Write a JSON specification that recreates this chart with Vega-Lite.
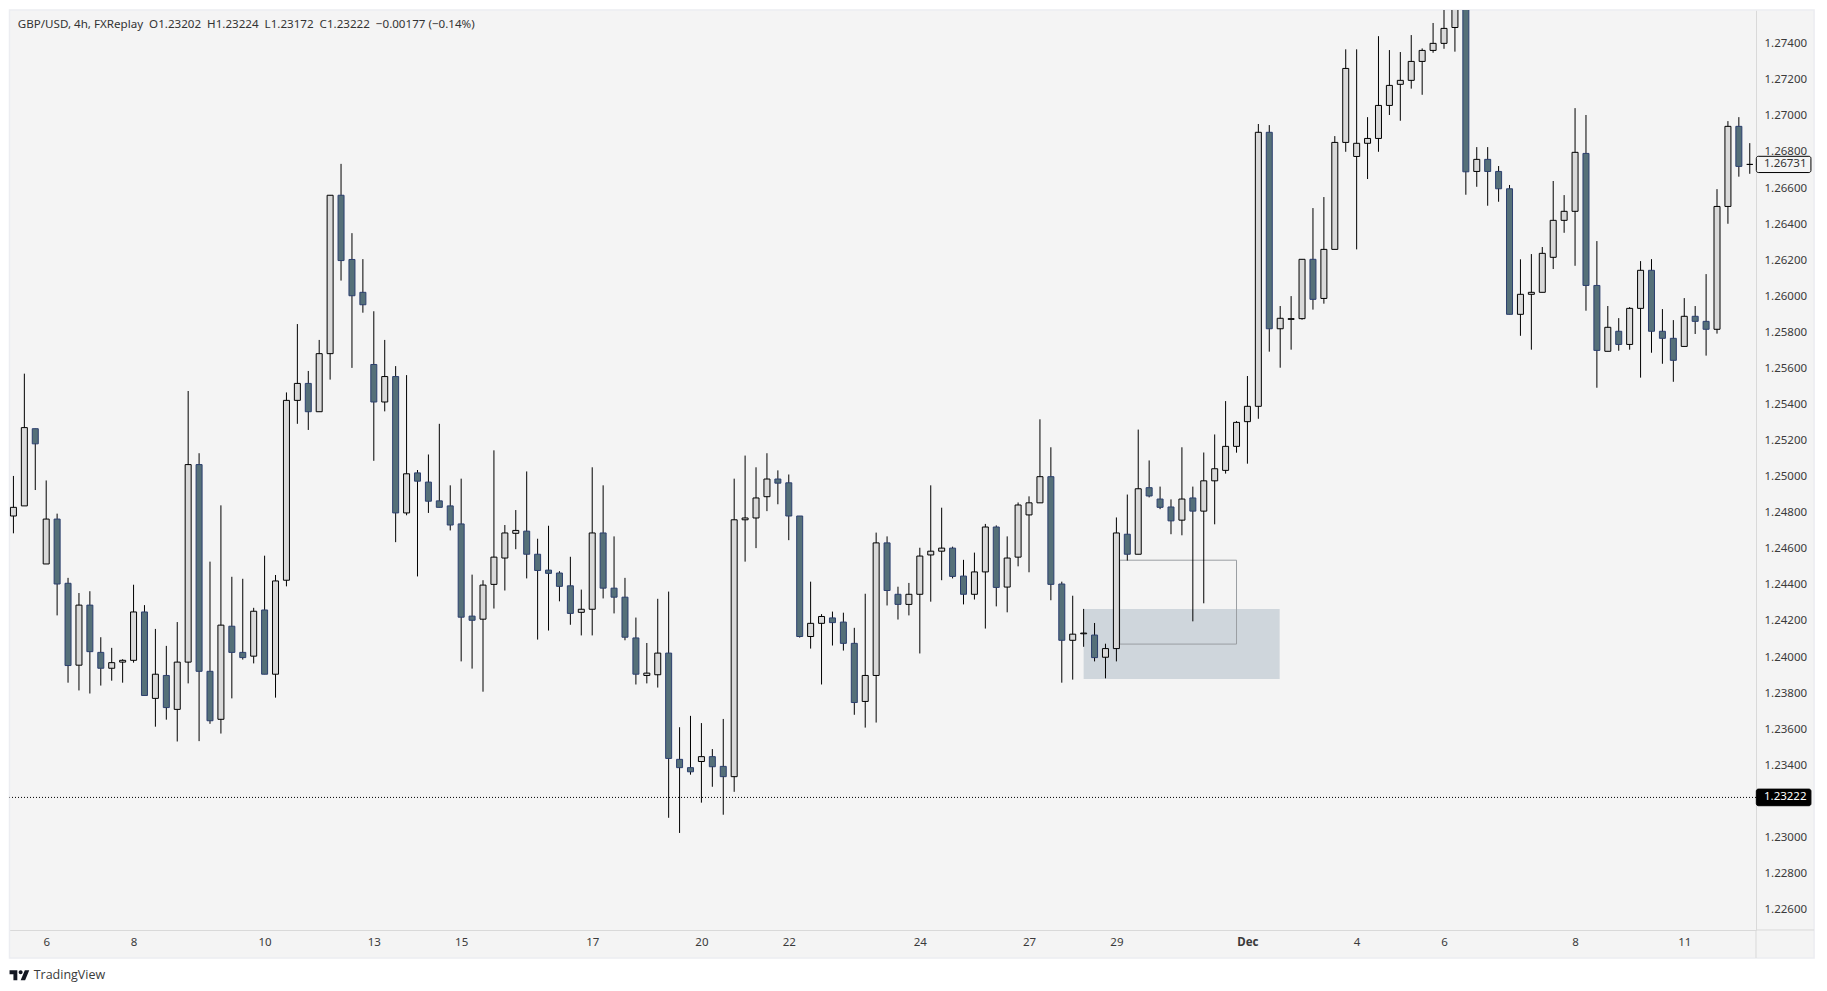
{
"$schema":"https://vega.github.io/schema/vega-lite/v6.json",
"width":1746.5,"height":920,
"autosize":{"type":"none"},
"padding":{"left":9.5,"top":10,"right":71,"bottom":61},
"background":"#f4f4f4",
"datasets":{
"margins":[
{"from":-10,"to":-0.36,"low":1.2,"high":1.3},
{"from":164.89,"to":175,"low":1.2,"high":1.3},
{"from":-10,"to":175,"low":1.27587,"high":1.3},
{"from":-10,"to":175,"low":1.2,"high":1.22332}
],
"candles":[
{"t":0,"o":1.24782,"h":1.25004,"l":1.24686,"c":1.2483},
{"t":1,"o":1.24838,"h":1.25571,"l":1.24838,"c":1.25272},
{"t":2,"o":1.25266,"h":1.25266,"l":1.24926,"c":1.25182},
{"t":3,"o":1.24516,"h":1.24979,"l":1.24516,"c":1.24765},
{"t":4,"o":1.24765,"h":1.24795,"l":1.24231,"c":1.24405},
{"t":5,"o":1.24409,"h":1.24439,"l":1.23858,"c":1.23953},
{"t":6,"o":1.23955,"h":1.24355,"l":1.23815,"c":1.24288},
{"t":7,"o":1.24288,"h":1.24365,"l":1.23798,"c":1.2403},
{"t":8,"o":1.24026,"h":1.2411,"l":1.23842,"c":1.23938},
{"t":9,"o":1.23938,"h":1.24051,"l":1.23869,"c":1.23969},
{"t":10,"o":1.23972,"h":1.23988,"l":1.23858,"c":1.23982},
{"t":11,"o":1.23982,"h":1.24401,"l":1.23969,"c":1.2425},
{"t":12,"o":1.2425,"h":1.24288,"l":1.23787,"c":1.23787},
{"t":13,"o":1.23771,"h":1.24156,"l":1.23614,"c":1.23905},
{"t":14,"o":1.23898,"h":1.24062,"l":1.23653,"c":1.2372},
{"t":15,"o":1.2371,"h":1.24194,"l":1.23532,"c":1.23972},
{"t":16,"o":1.23972,"h":1.25475,"l":1.23854,"c":1.25067},
{"t":17,"o":1.25067,"h":1.2513,"l":1.23534,"c":1.23921},
{"t":18,"o":1.23921,"h":1.24529,"l":1.2363,"c":1.23647},
{"t":19,"o":1.23655,"h":1.24841,"l":1.23576,"c":1.24177},
{"t":20,"o":1.24171,"h":1.24445,"l":1.23771,"c":1.24026},
{"t":21,"o":1.24026,"h":1.24434,"l":1.23986,"c":1.23997},
{"t":22,"o":1.24005,"h":1.24273,"l":1.23965,"c":1.24254},
{"t":23,"o":1.24261,"h":1.24562,"l":1.23905,"c":1.23905},
{"t":24,"o":1.23905,"h":1.24455,"l":1.23775,"c":1.24422},
{"t":25,"o":1.24426,"h":1.25467,"l":1.24392,"c":1.25423},
{"t":26,"o":1.25423,"h":1.25846,"l":1.25293,"c":1.25517},
{"t":27,"o":1.25517,"h":1.25586,"l":1.25259,"c":1.2536},
{"t":28,"o":1.2536,"h":1.25758,"l":1.2536,"c":1.25682},
{"t":29,"o":1.25682,"h":1.2656,"l":1.25538,"c":1.2656},
{"t":30,"o":1.2656,"h":1.26734,"l":1.26087,"c":1.26198},
{"t":31,"o":1.26204,"h":1.2635,"l":1.25603,"c":1.26003},
{"t":32,"o":1.26022,"h":1.26206,"l":1.25909,"c":1.25953},
{"t":33,"o":1.25622,"h":1.25917,"l":1.25088,"c":1.25414},
{"t":34,"o":1.25414,"h":1.25758,"l":1.25362,"c":1.25555},
{"t":35,"o":1.25555,"h":1.25613,"l":1.24637,"c":1.24799},
{"t":36,"o":1.24799,"h":1.25563,"l":1.24786,"c":1.25016},
{"t":37,"o":1.25021,"h":1.25037,"l":1.24447,"c":1.24975},
{"t":38,"o":1.2497,"h":1.25123,"l":1.24799,"c":1.24864},
{"t":39,"o":1.24866,"h":1.25293,"l":1.2483,"c":1.2483},
{"t":40,"o":1.24838,"h":1.24952,"l":1.24702,"c":1.24732},
{"t":41,"o":1.24738,"h":1.24989,"l":1.23976,"c":1.24221},
{"t":42,"o":1.24227,"h":1.24457,"l":1.23936,"c":1.24204},
{"t":43,"o":1.2421,"h":1.24426,"l":1.23808,"c":1.24399},
{"t":44,"o":1.24403,"h":1.25146,"l":1.24269,"c":1.24554},
{"t":45,"o":1.24549,"h":1.24732,"l":1.24369,"c":1.24688},
{"t":46,"o":1.24686,"h":1.24815,"l":1.24598,"c":1.24702},
{"t":47,"o":1.24698,"h":1.25029,"l":1.24436,"c":1.2457},
{"t":48,"o":1.2457,"h":1.24656,"l":1.24097,"c":1.2448},
{"t":49,"o":1.24482,"h":1.24728,"l":1.24147,"c":1.24464},
{"t":50,"o":1.24466,"h":1.24476,"l":1.24309,"c":1.24392},
{"t":51,"o":1.24395,"h":1.24556,"l":1.24179,"c":1.24242},
{"t":52,"o":1.24248,"h":1.24374,"l":1.2412,"c":1.24265},
{"t":53,"o":1.24265,"h":1.25052,"l":1.2412,"c":1.24688},
{"t":54,"o":1.24688,"h":1.24952,"l":1.24325,"c":1.24382},
{"t":55,"o":1.24382,"h":1.24669,"l":1.24242,"c":1.24332},
{"t":56,"o":1.24332,"h":1.24439,"l":1.24093,"c":1.2411},
{"t":57,"o":1.24106,"h":1.24219,"l":1.23848,"c":1.23905},
{"t":58,"o":1.23898,"h":1.24078,"l":1.23854,"c":1.23911},
{"t":59,"o":1.23902,"h":1.24323,"l":1.23831,"c":1.24022},
{"t":60,"o":1.24022,"h":1.24363,"l":1.23109,"c":1.23438},
{"t":61,"o":1.23433,"h":1.23611,"l":1.23025,"c":1.23387},
{"t":62,"o":1.23387,"h":1.23674,"l":1.23348,"c":1.23364},
{"t":63,"o":1.23421,"h":1.23634,"l":1.23193,"c":1.23448},
{"t":64,"o":1.23448,"h":1.2349,"l":1.23281,"c":1.23392},
{"t":65,"o":1.23394,"h":1.23657,"l":1.23126,"c":1.23337},
{"t":66,"o":1.23337,"h":1.24989,"l":1.23253,"c":1.24761},
{"t":67,"o":1.24761,"h":1.25117,"l":1.24529,"c":1.24771},
{"t":68,"o":1.24771,"h":1.25052,"l":1.24604,"c":1.24882},
{"t":69,"o":1.24889,"h":1.2513,"l":1.24809,"c":1.24987},
{"t":70,"o":1.24987,"h":1.25035,"l":1.24847,"c":1.24964},
{"t":71,"o":1.24966,"h":1.25012,"l":1.24648,"c":1.24782},
{"t":72,"o":1.24782,"h":1.24782,"l":1.24108,"c":1.24114},
{"t":73,"o":1.24114,"h":1.24418,"l":1.24047,"c":1.24187},
{"t":74,"o":1.24187,"h":1.24238,"l":1.23848,"c":1.24225},
{"t":75,"o":1.24217,"h":1.24252,"l":1.24064,"c":1.24191},
{"t":76,"o":1.24194,"h":1.24246,"l":1.24036,"c":1.24076},
{"t":77,"o":1.24076,"h":1.24162,"l":1.2368,"c":1.23748},
{"t":78,"o":1.23754,"h":1.24351,"l":1.23609,"c":1.23898},
{"t":79,"o":1.23898,"h":1.2469,"l":1.23637,"c":1.24633},
{"t":80,"o":1.24633,"h":1.24669,"l":1.24286,"c":1.24369},
{"t":81,"o":1.24348,"h":1.2439,"l":1.24208,"c":1.24292},
{"t":82,"o":1.24292,"h":1.24411,"l":1.24231,"c":1.24348},
{"t":83,"o":1.24348,"h":1.24606,"l":1.2402,"c":1.2456},
{"t":84,"o":1.24566,"h":1.24952,"l":1.24307,"c":1.24587},
{"t":85,"o":1.24587,"h":1.24828,"l":1.24426,"c":1.24604},
{"t":86,"o":1.24604,"h":1.24612,"l":1.24436,"c":1.24447},
{"t":87,"o":1.24449,"h":1.24539,"l":1.24292,"c":1.24348},
{"t":88,"o":1.24348,"h":1.24579,"l":1.24319,"c":1.24472},
{"t":89,"o":1.24472,"h":1.24738,"l":1.24158,"c":1.24721},
{"t":90,"o":1.24721,"h":1.2473,"l":1.24281,"c":1.24386},
{"t":91,"o":1.24388,"h":1.24669,"l":1.24248,"c":1.24549},
{"t":92,"o":1.24554,"h":1.24857,"l":1.24503,"c":1.24843},
{"t":93,"o":1.24788,"h":1.24891,"l":1.2447,"c":1.24855},
{"t":94,"o":1.24855,"h":1.25318,"l":1.24855,"c":1.25},
{"t":95,"o":1.25,"h":1.25163,"l":1.24315,"c":1.24403},
{"t":96,"o":1.24405,"h":1.24418,"l":1.23858,"c":1.24093},
{"t":97,"o":1.24093,"h":1.2434,"l":1.23875,"c":1.24127},
{"t":98,"o":1.24129,"h":1.24267,"l":1.24057,"c":1.24133},
{"t":99,"o":1.24122,"h":1.24189,"l":1.23976,"c":1.23997},
{"t":100,"o":1.23999,"h":1.24074,"l":1.23882,"c":1.24047},
{"t":101,"o":1.24047,"h":1.24774,"l":1.23976,"c":1.24688},
{"t":102,"o":1.24681,"h":1.24901,"l":1.24535,"c":1.2457},
{"t":103,"o":1.2457,"h":1.25261,"l":1.2457,"c":1.24933},
{"t":104,"o":1.24939,"h":1.2509,"l":1.24885,"c":1.24893},
{"t":105,"o":1.24876,"h":1.24945,"l":1.2482,"c":1.2483},
{"t":106,"o":1.24832,"h":1.24874,"l":1.24681,"c":1.24755},
{"t":107,"o":1.24759,"h":1.25163,"l":1.24675,"c":1.24876},
{"t":108,"o":1.24882,"h":1.24945,"l":1.24198,"c":1.24809},
{"t":109,"o":1.24809,"h":1.25134,"l":1.24298,"c":1.24977},
{"t":110,"o":1.24977,"h":1.25234,"l":1.24736,"c":1.25044},
{"t":111,"o":1.25035,"h":1.25419,"l":1.25017,"c":1.25168},
{"t":112,"o":1.25168,"h":1.25308,"l":1.25133,"c":1.25301},
{"t":113,"o":1.25305,"h":1.25558,"l":1.25072,"c":1.2539},
{"t":114,"o":1.2539,"h":1.26955,"l":1.25321,"c":1.26909},
{"t":115,"o":1.26909,"h":1.26949,"l":1.25693,"c":1.2582},
{"t":116,"o":1.2582,"h":1.25946,"l":1.25604,"c":1.25878},
{"t":117,"o":1.25872,"h":1.26001,"l":1.25704,"c":1.25876},
{"t":118,"o":1.25876,"h":1.26205,"l":1.2587,"c":1.26205},
{"t":119,"o":1.26205,"h":1.26489,"l":1.25926,"c":1.25983},
{"t":120,"o":1.25988,"h":1.2655,"l":1.25959,"c":1.2626},
{"t":121,"o":1.2626,"h":1.26888,"l":1.2626,"c":1.26853},
{"t":122,"o":1.26853,"h":1.27369,"l":1.26801,"c":1.27263},
{"t":123,"o":1.26775,"h":1.27369,"l":1.2626,"c":1.26848},
{"t":124,"o":1.26848,"h":1.26993,"l":1.2665,"c":1.26875},
{"t":125,"o":1.26875,"h":1.27442,"l":1.26801,"c":1.27058},
{"t":126,"o":1.27058,"h":1.27365,"l":1.27005,"c":1.27169},
{"t":127,"o":1.27175,"h":1.27354,"l":1.26973,"c":1.27197},
{"t":128,"o":1.27197,"h":1.27448,"l":1.27151,"c":1.27302},
{"t":129,"o":1.27302,"h":1.27374,"l":1.27117,"c":1.27363},
{"t":130,"o":1.27363,"h":1.27515,"l":1.2735,"c":1.27402},
{"t":131,"o":1.27402,"h":1.276,"l":1.27372,"c":1.27485},
{"t":132,"o":1.2749,"h":1.276,"l":1.27356,"c":1.276},
{"t":133,"o":1.276,"h":1.276,"l":1.26563,"c":1.2669},
{"t":134,"o":1.26692,"h":1.26827,"l":1.26607,"c":1.26759},
{"t":135,"o":1.26759,"h":1.26827,"l":1.26502,"c":1.26692},
{"t":136,"o":1.26692,"h":1.26722,"l":1.26524,"c":1.26596},
{"t":137,"o":1.26596,"h":1.26617,"l":1.259,"c":1.259},
{"t":138,"o":1.259,"h":1.26205,"l":1.25781,"c":1.26011},
{"t":139,"o":1.26011,"h":1.26234,"l":1.25704,"c":1.26022},
{"t":140,"o":1.26022,"h":1.26273,"l":1.26022,"c":1.26238},
{"t":141,"o":1.26216,"h":1.26639,"l":1.26151,"c":1.26421},
{"t":142,"o":1.26421,"h":1.26561,"l":1.26352,"c":1.26471},
{"t":143,"o":1.26471,"h":1.27043,"l":1.26169,"c":1.26798},
{"t":144,"o":1.26792,"h":1.27005,"l":1.2592,"c":1.2606},
{"t":145,"o":1.2606,"h":1.26306,"l":1.25493,"c":1.257},
{"t":146,"o":1.25695,"h":1.25946,"l":1.25695,"c":1.25828},
{"t":147,"o":1.25806,"h":1.25879,"l":1.25698,"c":1.25733},
{"t":148,"o":1.25733,"h":1.2594,"l":1.25704,"c":1.25933},
{"t":149,"o":1.25933,"h":1.26195,"l":1.25549,"c":1.26144},
{"t":150,"o":1.26144,"h":1.26206,"l":1.25687,"c":1.25806},
{"t":151,"o":1.25806,"h":1.25929,"l":1.25626,"c":1.25767},
{"t":152,"o":1.25767,"h":1.25868,"l":1.25526,"c":1.25645},
{"t":153,"o":1.25722,"h":1.2599,"l":1.25722,"c":1.25889},
{"t":154,"o":1.25889,"h":1.25946,"l":1.25791,"c":1.25861},
{"t":155,"o":1.25861,"h":1.26123,"l":1.25671,"c":1.25817},
{"t":156,"o":1.25817,"h":1.26594,"l":1.25793,"c":1.26498},
{"t":157,"o":1.26498,"h":1.26971,"l":1.26402,"c":1.26942},
{"t":158,"o":1.26942,"h":1.26993,"l":1.26663,"c":1.2672},
{"t":159,"o":1.26731,"h":1.26849,"l":1.26679,"c":1.26731}
]
},
"layer":[
{"data":{"name":"margins"},
 "mark":{"type":"rect","fill":"#ffffff"},
 "encoding":{
  "x":{"field":"from","type":"quantitative","title":null,"scale":{"domain":[-0.36,159.57],"nice":false,"zero":false,"padding":0},
   "axis":{"labelOverlap":false,"values":[3,11,23,33,41,53,63,71,83,93,101,113,123,131,143,153],
    "labelExpr":"({3:'6',11:'8',23:'10',33:'13',41:'15',53:'17',63:'20',71:'22',83:'24',93:'27',101:'29',113:'Dec',123:'4',131:'6',143:'8',153:'11'})[datum.value]",
    "labelFontWeight":{"condition":{"test":"datum.value==113","value":"bold"},"value":"normal"}}},
  "x2":{"field":"to"},
  "y":{"field":"low","type":"quantitative","title":null,"scale":{"domain":[1.22487,1.27587],"nice":false,"zero":false},
   "axis":{"orient":"right","format":".5f","labelOverlap":false,"tickCount":30,"values":[1.226,1.228,1.23,1.234,1.236,1.238,1.24,1.242,1.244,1.246,1.248,1.25,1.252,1.254,1.256,1.258,1.26,1.262,1.264,1.266,1.268,1.27,1.272,1.274]}},
  "y2":{"field":"high"}}},
{"data":{"values":[{"left":-0.36,"right":164.89,"bottom":1.22332,"top":1.27587}]},
 "mark":{"type":"rect","fill":null,"stroke":"#ecedf1","strokeWidth":1.5},
 "encoding":{
  "x":{"field":"left","type":"quantitative","title":null,"scale":{"domain":[-0.36,159.57],"nice":false,"zero":false,"padding":0}},
  "x2":{"field":"right"},
  "y":{"field":"bottom","type":"quantitative","title":null,"scale":{"domain":[1.22487,1.27587],"nice":false,"zero":false}},
  "y2":{"field":"top"}}},
{"data":{"values":[{"x":159.57,"x2":164.89,"y":1.22487,"y2":1.22487},{"x":159.57,"x2":159.57,"y":1.22487,"y2":1.22332}]},
 "mark":{"type":"rule","stroke":"#d9d9d9","strokeWidth":1},
 "encoding":{
  "x":{"field":"x","type":"quantitative","title":null,"scale":{"domain":[-0.36,159.57],"nice":false,"zero":false,"padding":0}},
  "x2":{"field":"x2"},
  "y":{"field":"y","type":"quantitative","title":null,"scale":{"domain":[1.22487,1.27587],"nice":false,"zero":false}},
  "y2":{"field":"y2"}}},
{"data":{"values":[{"from":98,"to":115.95,"low":1.23879,"high":1.24267}]},
 "mark":{"type":"rect","fill":"#cfd6dc"},
 "encoding":{
  "x":{"field":"from","type":"quantitative","title":null,"scale":{"domain":[-0.36,159.57],"nice":false,"zero":false,"padding":0}},
  "x2":{"field":"to"},
  "y":{"field":"low","type":"quantitative","title":null,"scale":{"domain":[1.22487,1.27587],"nice":false,"zero":false}},
  "y2":{"field":"high"}}},
{"data":{"values":[{"from":101.3,"to":112,"low":1.24072,"high":1.24537}]},
 "mark":{"type":"rect","fill":null,"stroke":"#9a9ea2","strokeWidth":1},
 "encoding":{
  "x":{"field":"from","type":"quantitative","title":null,"scale":{"domain":[-0.36,159.57],"nice":false,"zero":false,"padding":0}},
  "x2":{"field":"to"},
  "y":{"field":"low","type":"quantitative","title":null,"scale":{"domain":[1.22487,1.27587],"nice":false,"zero":false}},
  "y2":{"field":"high"}}},
{"data":{"values":[{"last":1.23222}]},
 "mark":{"type":"rule","stroke":"#000000","strokeWidth":1,"strokeDash":[1,2]},
 "encoding":{
  "y":{"field":"last","type":"quantitative","title":null,"scale":{"domain":[1.22487,1.27587],"nice":false,"zero":false}}}},
{"data":{"name":"candles"},
 "mark":{"type":"rule","stroke":"#000000","strokeWidth":1,"clip":true},
 "encoding":{
  "x":{"field":"t","type":"quantitative","title":null,"scale":{"domain":[-0.36,159.57],"nice":false,"zero":false,"padding":0}},
  "y":{"field":"l","type":"quantitative","title":null,"scale":{"domain":[1.22487,1.27587],"nice":false,"zero":false}},
  "y2":{"field":"h"}}},
{"data":{"name":"candles"},
 "mark":{"type":"bar","size":6,"strokeWidth":1,"clip":true},
 "encoding":{
  "x":{"field":"t","type":"quantitative","title":null,"scale":{"domain":[-0.36,159.57],"nice":false,"zero":false,"padding":0}},
  "y":{"field":"o","type":"quantitative","title":null,"scale":{"domain":[1.22487,1.27587],"nice":false,"zero":false}},
  "y2":{"field":"c"},
  "fill":{"condition":{"test":"datum.c >= datum.o","value":"#d9d9d9"},"value":"#557079"},
  "stroke":{"condition":{"test":"datum.c >= datum.o","value":"#000000"},"value":"#2c3f6e"}}},
{"data":{"values":[{"price":1.26731,"low":1.26686,"high":1.26776,"label":"1.26731","last":false},{"price":1.23222,"low":1.23176,"high":1.23268,"label":"1.23222","last":true}]},
 "layer":[
  {"mark":{"type":"rect","cornerRadius":2,"strokeWidth":1,"stroke":"#000000"},
   "encoding":{
    "x":{"datum":159.6,"type":"quantitative","title":null,"scale":{"domain":[-0.36,159.57],"nice":false,"zero":false,"padding":0}},
    "x2":{"datum":164.6},
    "y":{"field":"low","type":"quantitative","title":null,"scale":{"domain":[1.22487,1.27587],"nice":false,"zero":false}},
    "y2":{"field":"high"},
    "fill":{"condition":{"test":"datum.last","value":"#000000"},"value":"#f4f4f4"}}},
  {"mark":{"type":"text","align":"left","baseline":"middle","font":"Noto Sans","fontSize":11.5},
   "encoding":{
    "x":{"datum":160.3,"type":"quantitative","title":null,"scale":{"domain":[-0.36,159.57],"nice":false,"zero":false,"padding":0}},
    "y":{"field":"price","type":"quantitative","title":null,"scale":{"domain":[1.22487,1.27587],"nice":false,"zero":false}},
    "text":{"field":"label"},
    "fontWeight":{"condition":{"test":"datum.last","value":"bold"},"value":"normal"},
    "color":{"condition":{"test":"datum.last","value":"#ffffff"},"value":"#333333"}}}
 ]},
{"data":{"values":[{"y":1.27504,"text":"GBP/USD, 4h, FXReplay\u00a0 O1.23202\u00a0 H1.23224\u00a0 L1.23172\u00a0 C1.23222\u00a0 −0.00177 (−0.14%)"}]},
 "mark":{"type":"text","align":"left","baseline":"middle","font":"Noto Sans","fontSize":11.6,"color":"#333333"},
 "encoding":{
  "x":{"datum":0.4,"type":"quantitative","title":null,"scale":{"domain":[-0.36,159.57],"nice":false,"zero":false,"padding":0}},
  "y":{"field":"y","type":"quantitative","title":null,"scale":{"domain":[1.22487,1.27587],"nice":false,"zero":false}},
  "text":{"field":"text"}}},
{"data":{"values":[{"x":0.56,"y":1.22236}]},
 "mark":{"type":"point","filled":true,"size":400,"color":"#131722","opacity":1,
  "shape":"M-0.222,0.5L-0.611,0.5L-0.611,-0.111L-1,-0.111L-1,-0.5L-0.222,-0.5ZM0.556,0.5L0.111,0.5L0.528,-0.5L0.972,-0.5ZM-0.09,-0.306a0.2,0.2 0 1,0 0.4,0a0.2,0.2 0 1,0 -0.4,0Z"},
 "encoding":{
  "x":{"field":"x","type":"quantitative","title":null,"scale":{"domain":[-0.36,159.57],"nice":false,"zero":false,"padding":0}},
  "y":{"field":"y","type":"quantitative","title":null,"scale":{"domain":[1.22487,1.27587],"nice":false,"zero":false}}}},
{"data":{"values":[{"x":1.85,"y":1.22236,"text":"TradingView"}]},
 "mark":{"type":"text","align":"left","baseline":"middle","font":"Open Sans","fontSize":12.5,"color":"#3a3a3a"},
 "encoding":{
  "x":{"field":"x","type":"quantitative","title":null,"scale":{"domain":[-0.36,159.57],"nice":false,"zero":false,"padding":0}},
  "y":{"field":"y","type":"quantitative","title":null,"scale":{"domain":[1.22487,1.27587],"nice":false,"zero":false}},
  "text":{"field":"text"}}}
],
"config":{
 "view":{"stroke":null},
 "axis":{"grid":false,"ticks":false,"domainColor":"#d9d9d9","domainWidth":1,"labelColor":"#3a3a3a","labelFont":"Noto Sans","labelFontSize":11.5,"labelFlush":false,"labelBound":false},
 "axisX":{"labelPadding":6,"labelAngle":0},
 "axisY":{"labelPadding":8,"labelAlign":"left"}
}
}
